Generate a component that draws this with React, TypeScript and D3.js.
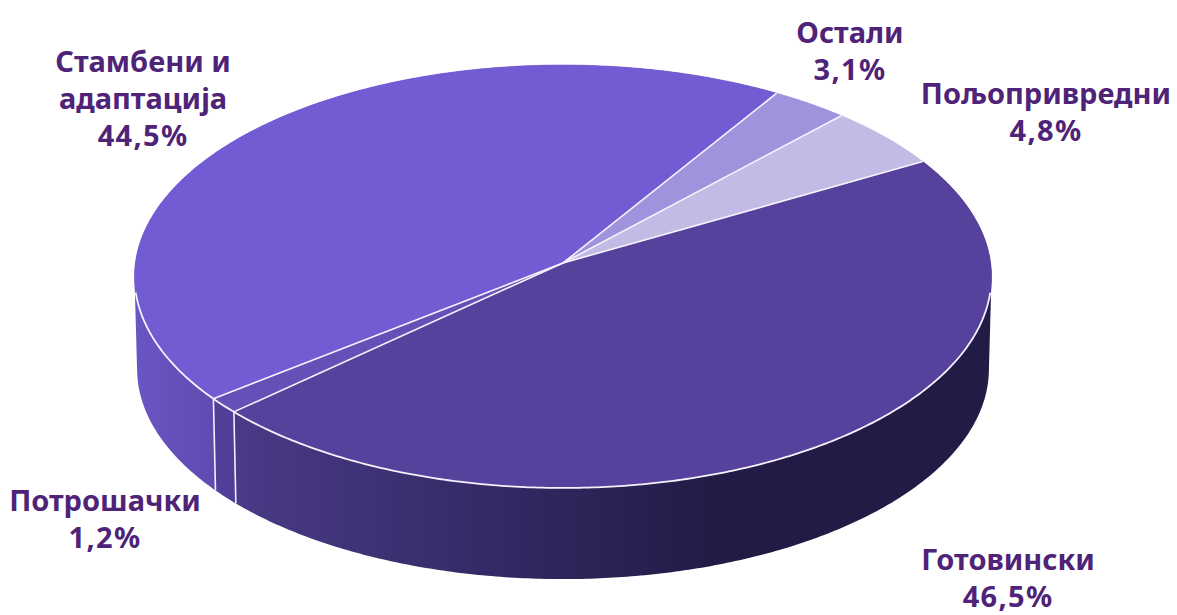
import * as d3 from 'd3';

const categories = ['Готовински', 'Потрошачки', 'Стамбени и адаптација', 'Остали', 'Пољопривредни'];
const shares = [46.5, 1.2, 44.5, 3.1, 4.8];
const shareLabels = ['46,5%', '1,2%', '44,5%', '3,1%', '4,8%'];
const topColors = ['#56429c', '#6550b8', '#725bd3', '#a093dd', '#c2bbe6'];
const sideFrom = ['#4a3a88', '#533f9a', '#6b55c4', '#a093dd', '#c2bbe6'];
const sideTo = ['#211b45', '#503e96', '#5f4bb0', '#a093dd', '#c2bbe6'];

const labelLines = [['Готовински'], ['Потрошачки'], ['Стамбени и', 'адаптација'], ['Остали'], ['Пољопривредни']];
const labelX = [1008, 105, 143, 850, 1046];
const labelY = [570, 511, 72, 43, 104];

const width = 1177;
const height = 615;
const cx = 563;
const cy = 263;
const radiusX = 427.6;
const radiusY = 210.6;
const tilt = 0.0638; // perspective: front of the disc is closer
const depth = 92.5;
const bottomScale = 0.994;
const firstAngle = (60.2 * Math.PI) / 180;

const pie = d3.pie<number>()
    .sort(null)
    .startAngle(firstAngle)
    .endAngle(firstAngle + 2 * Math.PI);

const slices = pie(shares);

function rim(angle: number, bottom = false): [number, number] {
    const u = Math.sin(angle);
    const v = -Math.cos(angle);
    const d = 1 - tilt * v;
    const s = bottom ? bottomScale : 1;
    return [cx + (s * radiusX * u) / d, cy + (bottom ? depth : 0) + (s * radiusY * v) / d];
}

function arcAngles(a0: number, a1: number) {
    const n = Math.max(2, Math.ceil((a1 - a0) / 0.01));
    const step = d3.scaleLinear().domain([0, n]).range([a0, a1]);
    return d3.range(n + 1).map(i => step(i));
}

const line = d3.line<[number, number]>();

function topPath(a0: number, a1: number) {
    return line([[cx, cy], ...arcAngles(a0, a1).map(a => rim(a))]) + 'Z';
}

// side wall as a union of small quads, all wound the same way, so the
// tangent parts at the far left and right get filled too
function sidePath(a0: number, a1: number) {
    const angles = arcAngles(a0, a1);
    return d3.pairs(angles).map(([p, q]) => {
        const quad: [number, number][] = [rim(p), rim(q), rim(q, true), rim(p, true)];
        if (d3.polygonArea(quad) < 0) quad.reverse();
        return line(quad) + 'Z';
    }).join('');
}

const App = () => {
    const edges = [slices[0].endAngle, slices[1].endAngle];
    const frontRim = arcAngles((98 * Math.PI) / 180, (262 * Math.PI) / 180);

    return (
        <svg width={width} height={height} style={{ position: 'fixed', left: 0, top: 0, background: '#fff' }}>
            <defs>
                {slices.map((s, i) => {
                    const xs = arcAngles(s.startAngle, s.endAngle).map(a => rim(a)[0]);
                    let x1 = d3.max(xs) as number;
                    let x2 = d3.min(xs) as number;
                    if (i === 0) { x1 = 234; x2 = 720; }
                    if (i === 1) { x1 = 216; x2 = 234; }
                    if (i === 2) { x1 = 135; x2 = 216; }
                    return (
                        <linearGradient key={i} id={`side${i}`} gradientUnits="userSpaceOnUse" x1={x1} x2={x2} y1={0} y2={0}>
                            <stop offset="0" stopColor={sideFrom[i]} />
                            <stop offset="1" stopColor={sideTo[i]} />
                        </linearGradient>
                    );
                })}
            </defs>

            <g>
                {slices.map((s, i) => (
                    <path key={i} d={sidePath(s.startAngle, s.endAngle)} fill={`url(#side${i})`} />
                ))}
                {edges.map((a, i) => (
                    <path key={i} d={line([rim(a), rim(a, true)]) as string} stroke="#f1eff8" strokeWidth={1.6} fill="none" />
                ))}
            </g>

            <g>
                {slices.map((s, i) => (
                    <path key={i} d={topPath(s.startAngle, s.endAngle)} fill={topColors[i]} stroke={topColors[i]} strokeWidth={0.6} strokeLinejoin="round" />
                ))}
                <path d={line(frontRim.map(a => rim(a))) as string} fill="none" stroke="#f4f2fb" strokeWidth={1.8} />
                {slices.map((s, i) => (
                    <path key={i} d={line([[cx, cy], rim(s.startAngle)]) as string} fill="none" stroke="#f4f2fb" strokeWidth={1.6} />
                ))}
            </g>

            <g fontFamily="'Noto Sans', sans-serif" fontWeight={700} fontSize={29} fill="#4f2378" textAnchor="middle">
                {categories.map((c, i) => (
                    <text key={c} x={labelX[i]} y={labelY[i]}>
                        {labelLines[i].map((t, j) => (
                            <tspan key={j} x={labelX[i]} dy={j === 0 ? 0 : 37}>{t}</tspan>
                        ))}
                        <tspan x={labelX[i]} dy={37} letterSpacing={1.3}>{shareLabels[i]}</tspan>
                    </text>
                ))}
            </g>
        </svg>
    );
};

export default App;
